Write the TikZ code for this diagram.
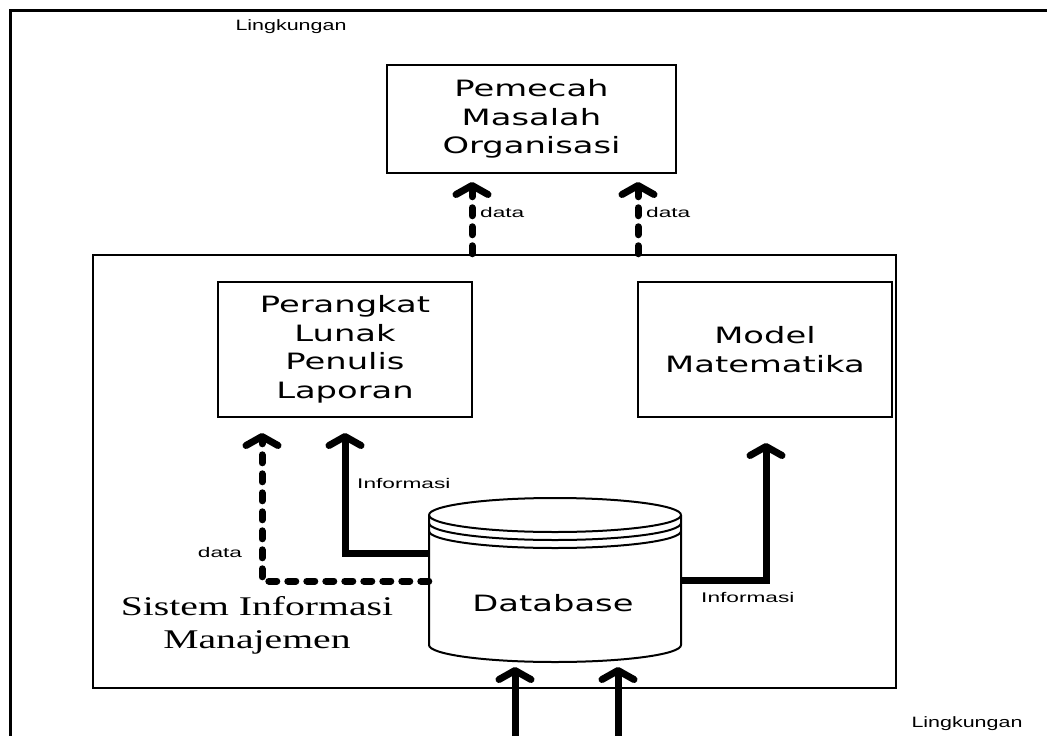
\documentclass[tikz,border=0pt]{standalone}
\usepackage{fontspec}
\usetikzlibrary{arrows.meta}
\newfontfamily\boxfont{DejaVu Sans}[FakeStretch=1.5]
\newfontfamily\labfont{Liberation Sans}[FakeStretch=1.62]
\newfontfamily\envfont{Liberation Sans}[FakeStretch=1.43]
\newfontfamily\serfont{Liberation Serif}[FakeStretch=1.47]
\begin{document}
\begin{tikzpicture}[x=1pt,y=-1pt,
  box/.style={draw, line width=2pt, inner sep=0pt, align=center,
    font=\boxfont\fontsize{22.5}{28.5}\selectfont},
  lab/.style={inner sep=0pt, font=\labfont\fontsize{14}{16}\selectfont},
  biglab/.style={inner sep=0pt, font=\envfont\fontsize{15}{18}\selectfont},
  flow/.style={line width=7pt, -{Straight Barb[length=9pt,width=32pt,line width=7pt,round]}},
  dflow/.style={flow, line cap=round, dash pattern=on 8pt off 11pt},
  cyl/.style={line width=2pt}
]
\useasboundingbox (0,0) rectangle (1047,736);
% environment frame
\draw[line width=3pt] (1060,10) -- (10,10) -- (10,750);
\node[biglab] (env1) at (291,27) {Lingkungan};
\node[biglab] (env2) at (967,724) {Lingkungan};

% boxes
\node[box, minimum width=289pt, minimum height=108pt] (pm) at (531.5,119) {Pemecah\\Masalah\\Organisasi};
\node[draw, line width=2.5pt, minimum width=803pt, minimum height=433pt, inner sep=0pt] (sim) at (494.5,471.5) {};
\node[box, minimum width=254pt, minimum height=135pt] (rl) at (345,349.5) {Perangkat\\Lunak\\Penulis\\Laporan};
\node[box, minimum width=254pt, minimum height=135pt] (mm) at (765,349.5) {Model\\Matematika};
\node[inner sep=0pt, align=center, font=\serfont\fontsize{27}{33}\selectfont] (simlab) at (257,625) {Sistem Informasi\\Manajemen};

% database cylinder
\draw[cyl] (429,515) -- (429,645) .. controls (429,654.4) and (485.4,662) .. (555,662)
  .. controls (624.6,662) and (681,654.4) .. (681,645) -- (681,515);
\draw[cyl] (429,515) .. controls (429,505.6) and (485.4,498) .. (555,498)
  .. controls (624.6,498) and (681,505.6) .. (681,515);
\foreach \c in {515,523,531}{
  \draw[cyl] (429,\c) .. controls (429,\c+9.4) and (485.4,\c+17) .. (555,\c+17)
    .. controls (624.6,\c+17) and (681,\c+9.4) .. (681,\c);
}
\node[inner sep=0pt, minimum width=252pt, minimum height=130pt] (db) at (555,580) {};
\node[inner sep=0pt, font=\boxfont\fontsize{22.5}{26}\selectfont] (dbl) at (553,603) {Database};

% connector end points
\coordinate (u1) at (472,182);
\coordinate (u2) at (638,182);
\coordinate (tI) at (345,433);
\coordinate (tD) at (262,433);
\coordinate (tM) at (766,443);
\coordinate (b1) at (515,745);
\coordinate (b2) at (618,745);
\coordinate (e1) at (515,667);
\coordinate (e2) at (618,667);

% connectors
\draw[dflow] (sim.north -| u1) -- (u1);
\draw[dflow] (sim.north -| u2) -- (u2);
\draw[flow] ([yshift=27pt]db.west) -| (tI);
\draw[dflow] ([yshift=-1pt]db.west) -| (tD);
\draw[flow] (db.east) -| (tM);
\draw[flow] (b1) -- (e1);
\draw[flow] (b2) -- (e2);

% labels
\node[lab, anchor=west] (ld1) at (480,212) {data};
\node[lab, anchor=west] (ld2) at (646,212) {data};
\node[lab, anchor=west] (li1) at (357,483) {Informasi};
\node[lab] (ld3) at (220,552) {data};
\node[lab, anchor=west] (li2) at (701,597) {Informasi};
\end{tikzpicture}
\end{document}
